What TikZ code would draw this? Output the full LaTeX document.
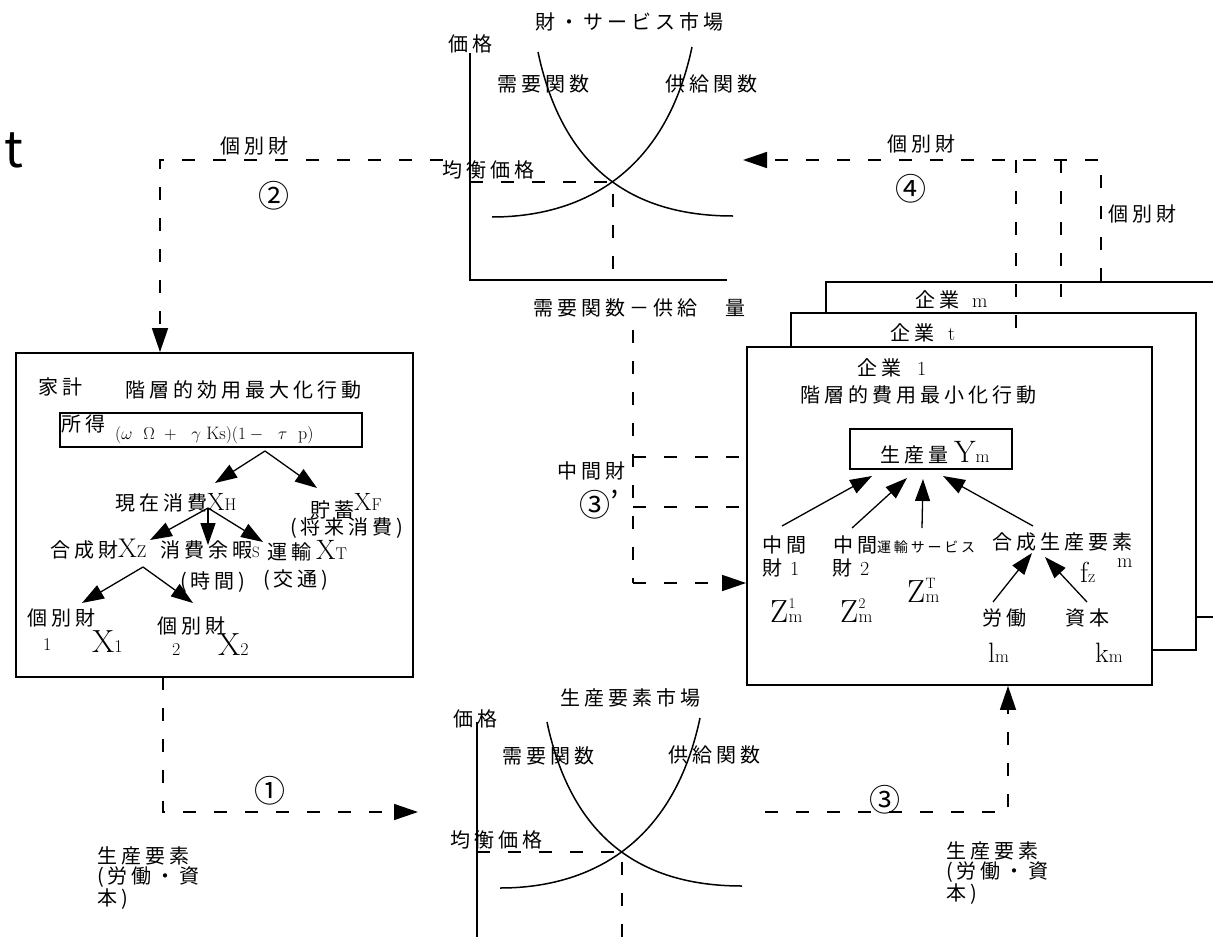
\documentclass[tikz,border=0pt]{standalone}
\usepackage{fontspec}
\newfontfamily\jp[LetterSpace=20]{Noto Sans CJK JP}
\newfontfamily\jpn{Noto Sans CJK JP}
\usetikzlibrary{arrows.meta}
\newcommand\Lt[2]{{\rmfamily\fontsize{#1}{#1}\selectfont #2}}
\tikzset{
  jt/.style={font=\jp\fontsize{20}{22}\selectfont, inner sep=0pt, anchor=base west},
  jts/.style={font=\jp\fontsize{20}{20.5}\selectfont, inner sep=0pt, anchor=north west, align=left},
  lt/.style={inner sep=0pt, anchor=base west},
  circ/.style={font=\jpn\fontsize{31}{31}\selectfont, inner sep=0pt},
  boxn/.style={draw, line width=1.8pt, fill=white, inner sep=0pt},
  dflow/.style={line width=1.6pt, dash pattern=on 13pt off 18pt},
  bigtip/.style={-{Triangle[length=24pt,width=16pt]}},
  tree/.style={line width=1.3pt, -{Triangle[length=22pt,width=15pt]}},
  curve/.style={line width=1.5pt},
  axis/.style={line width=1.8pt},
}
\begin{document}
\begin{tikzpicture}[x=1pt,y=-1pt]
\useasboundingbox (0,0) rectangle (1213,937);
\clip (0,0) rectangle (1213,937);
\fill[white] (0,0) rectangle (1213,937);

% stray letter
\node[font=\jpn\fontsize{50}{50}\selectfont, inner sep=0pt, anchor=base west] (stray) at (4,167) {t};

% ---------------- top market ----------------
\node[jt] (ttitle) at (535,29) {財・サービス市場};
\node[jt] (tprice) at (448,51) {価格};
\coordinate (tY) at (470,53);
\coordinate (tO) at (470,280);
\coordinate (tX) at (727,280);
\draw[axis] (tY) -- (tO) -- (tX);
\draw[curve] (538,52) .. controls (565,180) and (645,216) .. (733,216);
\draw[curve] (492,217) .. controls (580,217) and (665,175) .. (692,47);
\node[jt] (tdem) at (497,91) {需要関数};
\node[jt] (tsup) at (665,91) {供給関数};
\node[jt] (teq) at (442,177) {均衡価格};
\coordinate (tE) at (613,182);
\coordinate (tEy) at (470,182);
\coordinate (tEx) at (613,280);
\draw[dflow] (tEy) -- (tE) -- (tEx);
\node[jt] (tqty) at (533,315) {需要関数－供給　量};

% ---------------- household ----------------
\node[boxn, minimum width=397pt, minimum height=324pt] (hh) at (214.5,515) {};
\node[jt] (hlab) at (38,394) {家計};
\node[jt] (htitle) at (125,397) {階層的効用最大化行動};
\node[boxn, minimum width=302pt, minimum height=34pt] (inc) at (211,430) {};
\node[jt] (inclab) at (61,431) {所得};
\node[lt] (incf) at (115,439) {\Lt{18}{$(\omega\ \ \Omega\ +\ \ \gamma\ \mathrm{Ks})(1-\ \ \tau\ \ \mathrm{p})$}};

\node[jt] (xh) at (115,510) {現在消費\Lt{25}{X}\Lt{17}{H}};
\node[jt] (xf) at (310,517) {貯蓄\raisebox{7pt}{\Lt{25}{X}\Lt{17}{F}}};
\node[jt] (xf2) at (290,534) {(将来消費)};
\node[jt] (xz) at (50,557) {合成財\Lt{27}{X}\Lt{17}{Z}};
\node[jt] (xs) at (160,557) {消費余暇\Lt{15}{S}};
\node[jt] (xt) at (267,559) {運輸\Lt{28}{\hspace{5pt}X}\Lt{17}{T}};
\node[jt] (xs2) at (180,588) {(時間)};
\node[jt] (xt2) at (263,586) {(交通)};
\node[jt] (g1) at (27,625) {個別財};
\node[lt] (g1n) at (43,650) {\Lt{18}{1}};
\node[lt] (x1) at (92,652) {\Lt{32}{X}\Lt{18}{1}};
\node[jt] (g2) at (157,633) {個別財};
\node[lt] (g2n) at (172,655) {\Lt{18}{2}};
\node[lt] (x2) at (218,655) {\Lt{32}{X}\Lt{18}{2}};

\coordinate (i0) at (265,451);
\coordinate (xhT) at (215,483);
\coordinate (xfT) at (317,488);
\draw[tree] (i0) -- (xhT);
\draw[tree] (i0) -- (xfT);
\coordinate (h0) at (208,508);
\coordinate (xzT) at (150,540);
\coordinate (xsT) at (208,545);
\coordinate (xtT) at (263,542);
\draw[tree] (h0) -- (xzT);
\draw[tree] (h0) -- (xsT);
\draw[tree] (h0) -- (xtT);
\coordinate (z0) at (143,567);
\coordinate (g1T) at (82,603);
\coordinate (g2T) at (193,603);
\draw[tree] (z0) -- (g1T);
\draw[tree] (z0) -- (g2T);

% flow 2
\coordinate (f2s) at (443,160);
\coordinate (f2c) at (160,160);
\draw[dflow, bigtip] (f2s) -- (f2c) -- (f2c |- hh.north);
\node[jt] (l2) at (220,153) {個別財};
\node[circ] (c2) at (274,196) {②};

% flow 1
\coordinate (c1top) at (163,677);
\coordinate (c1c) at (163,812);
\coordinate (c1end) at (418,812);
\draw[dflow, bigtip] (c1top) -- (c1c) -- (c1end);
\node[circ] (c1) at (270,791) {①};
\node[jts] (lab1) at (97,846) {生産要素\\(労働・資\\本)};

% ---------------- bottom market ----------------
\node[jt] (btitle) at (560,705) {生産要素市場};
\node[jt] (bprice) at (453,726) {価格};
\coordinate (bY) at (477,722);
\coordinate (bO) at (477,940);
\draw[axis] (bY) -- (bO);
\draw[curve] (547,722) .. controls (574,850) and (654,886) .. (742,886);
\draw[curve] (500,888) .. controls (588,888) and (673,846) .. (700,718);
\node[jt] (bdem) at (502,763) {需要関数};
\node[jt] (bsup) at (668,762) {供給関数};
\node[jt] (beq) at (450,847) {均衡価格};
\coordinate (bE) at (622,852);
\coordinate (bEy) at (477,852);
\coordinate (bEx) at (622,940);
\draw[dflow] (bEy) -- (bE) -- (bEx);

% ---------------- firms ----------------
\node[boxn, minimum width=404pt, minimum height=335pt] (fm) at (1028,449.5) {};
\node[boxn, minimum width=405pt, minimum height=337pt] (ft) at (993.5,481.5) {};
\node[boxn, minimum width=405pt, minimum height=338pt] (f1) at (949.5,516) {};
\node[jt] (fml) at (915,307) {企業\Lt{20}{\hspace{13pt}m}};
\node[jt] (ftl) at (890,340) {企業\Lt{20}{\hspace{14pt}t}};
\node[jt] (f1l) at (857,375) {企業\Lt{20}{\hspace{16pt}1}};
\node[jt] (f1t) at (800,402) {階層的費用最小化行動};
\node[boxn, minimum width=162pt, minimum height=40pt] (yb) at (931,449) {};
\node[jt] (ybt) at (880,462) {生産量\Lt{31}{\hspace{6pt}Y}\Lt{18}{m}};

\node[jt] (m1a) at (762,552) {中間};
\node[jt] (m1b) at (762,575) {財\Lt{20}{\hspace{8pt}1}};
\node[jt] (m2a) at (833,552) {中間{\fontsize{14}{14}\selectfont 運輸サービス}};
\node[jt] (m2b) at (832,575) {財\Lt{20}{\hspace{8pt}2}};
\node[jt] (fzl) at (992,549) {合成生産要素};
\node[lt] (fz) at (1080,582) {\Lt{29}{f}\Lt{18}{z}};
\node[lt] (fzm) at (1117,567) {\Lt{20}{m}};
% Z symbols: letter, subscript, superscript as separate nodes
\node[lt] (z1) at (770,622) {\Lt{32}{Z}};
\node[lt] (z1s) at (z1.base east) {\Lt{18}{m}};
\node[lt] (z1p) at ([yshift=14pt]z1.base east) {\Lt{15}{1}};
\node[lt] (z2) at (840,622) {\Lt{32}{Z}};
\node[lt] (z2s) at (z2.base east) {\Lt{18}{m}};
\node[lt] (z2p) at ([yshift=14pt]z2.base east) {\Lt{15}{2}};
\node[lt] (zt) at (907,602) {\Lt{32}{Z}};
\node[lt] (zts) at (zt.base east) {\Lt{18}{m}};
\node[lt] (ztp) at ([yshift=14pt]zt.base east) {\Lt{15}{T}};
\node[jt] (lab) at (982,625) {労働};
\node[jt] (cap) at (1065,625) {資本};
\node[lt] (lm) at (988,662) {\Lt{28}{l}\Lt{18}{m}};
\node[lt] (km) at (1095,662) {\Lt{28}{k}\Lt{18}{m}};

\coordinate (a1s) at (782,526); \coordinate (a1e) at (872,476);
\coordinate (a2s) at (852,528); \coordinate (a2e) at (907,478);
\coordinate (a3s) at (922,528); \coordinate (a3e) at (923,479);
\coordinate (a4s) at (1033,526); \coordinate (a4e) at (943,476);
\draw[tree] (a1s) -- (a1e);
\draw[tree] (a2s) -- (a2e);
\draw[tree] (a3s) -- (a3e);
\draw[tree] (a4s) -- (a4e);
\coordinate (a5s) at (993,602); \coordinate (a5e) at (1032,553);
\coordinate (a6s) at (1087,602); \coordinate (a6e) at (1045,557);
\draw[tree] (a5s) -- (a5e);
\draw[tree] (a6s) -- (a6e);

% flow 4 and firm outputs
\coordinate (c4r) at (1101,160);
\coordinate (c4end) at (743,160);
\draw[dflow, bigtip] (c4r |- fm.north) -- (c4r) -- (c4end);
\coordinate (c4a) at (1016,160);
\coordinate (c4b) at (1061,160);
\draw[dflow] (c4a) -- (c4a |- f1.north);
\draw[dflow] (c4b) -- (c4b |- ft.north);
\node[jt] (l4) at (887,151) {個別財};
\node[circ] (c4) at (911,189) {④};
\node[jt] (l4b) at (1108,221) {個別財};

% flow 3'
\coordinate (d3a) at (633,330);
\coordinate (d3b) at (633,583);
\coordinate (d3m1) at (633,457);
\coordinate (d3m2) at (633,507);
\draw[dflow] (d3a) -- (d3b);
\draw[dflow, bigtip] (d3b) -- (d3b -| f1.west);
\draw[dflow] (d3m1) -- (d3m1 -| f1.west);
\draw[dflow] (d3m2) -- (d3m2 -| f1.west);
\node[jt] (lmid) at (557,478) {中間財};
\node[circ, anchor=west] (c3p) at (579,505) {③{\fontsize{30}{30}\selectfont\raisebox{3pt}{’}}};

% flow 3
\coordinate (c3s) at (765,812);
\coordinate (c3c) at (1008,812);
\draw[dflow, bigtip] (c3s) -- (c3c) -- (c3c |- f1.south);
\node[circ] (c3) at (885,800) {③};
\node[jts] (lab3) at (946,841) {生産要素\\(労働・資\\本)};
\end{tikzpicture}
\end{document}
